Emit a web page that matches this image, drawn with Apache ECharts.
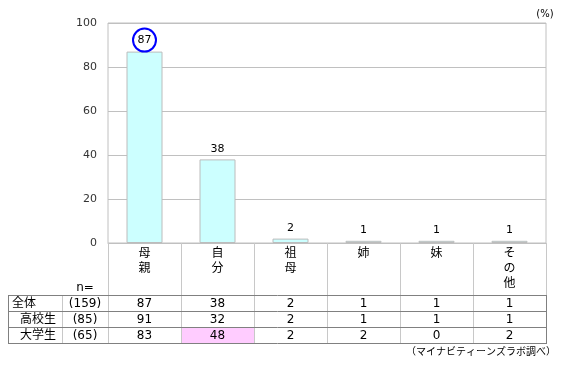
<!DOCTYPE html>
<html><head><meta charset="utf-8">
<script src="https://cdn.jsdelivr.net/npm/echarts@6/dist/echarts.min.js"></script>
<style>html,body{margin:0;padding:0;background:#fff}#c{width:563px;height:366px}</style>
</head><body><div id="c"></div>
<script>
// ---- data ----
const categories = ['母親', '自分', '祖母', '姉', '妹', 'その他'];
const overallValues = [87, 38, 2, 1, 1, 1];
const rowLabels = ['全体', '高校生', '大学生'];
const rowN = ['(159)', '(85)', '(65)'];
const rowAll = [87, 38, 2, 1, 1, 1];
const rowHigh = [91, 32, 2, 1, 1, 1];
const rowUniv = [83, 48, 2, 2, 0, 2];
const yTicks = [0, 20, 40, 60, 80, 100];
const unitLabel = '(%)';
const sourceLabel = '（マイナビティーンズラボ調べ）';
const highlightRow = 2, highlightCol = 1;
const circledIndex = 0;

// ---- layout ----
const FONT = '"DejaVu Sans","Noto Sans CJK JP",sans-serif';
const G = { left: 108, right: 546, top: 23, bottom: 243 };
const W = 563, H = 366;
const colW = (G.right - G.left) / categories.length;
const tableLeft = 8, nColLeft = 62;
const headerBottom = 295, rowH = 16;
const tableRows = [rowAll, rowHigh, rowUniv];
const rowIndent = [12, 20, 20];

const chart = echarts.init(document.getElementById('c'), null, { renderer: 'canvas' });

const g = [];
g.push({ type: 'rect', shape: { x: G.left + colW * highlightCol, y: headerBottom + rowH * highlightRow + 0.5, width: colW, height: rowH },
  style: { fill: '#ffccff' }, z: 1 });
const light = '#c8c8c8', dark = '#808080';
for (let i = 1; i <= categories.length - 1; i++) {
  const x = Math.round(G.left + colW * i) + 0.5;
  g.push({ type: 'line', shape: { x1: x, y1: G.bottom, x2: x, y2: headerBottom + rowH * 3 }, style: { stroke: light, lineWidth: 1 }, z: 2 });
}
g.push({ type: 'line', shape: { x1: G.left + 0.5, y1: G.bottom, x2: G.left + 0.5, y2: headerBottom + rowH * 3 }, style: { stroke: light, lineWidth: 1 }, z: 2 });
g.push({ type: 'line', shape: { x1: nColLeft + 0.5, y1: headerBottom, x2: nColLeft + 0.5, y2: headerBottom + rowH * 3 }, style: { stroke: light, lineWidth: 1 }, z: 2 });
g.push({ type: 'line', shape: { x1: G.right + 0.5, y1: G.bottom, x2: G.right + 0.5, y2: headerBottom }, style: { stroke: light, lineWidth: 1 }, z: 2 });
for (let r = 0; r <= 3; r++) {
  const y = headerBottom + rowH * r + 0.5;
  g.push({ type: 'line', shape: { x1: tableLeft, y1: y, x2: G.right + 1, y2: y }, style: { stroke: dark, lineWidth: 1 }, z: 3 });
}
g.push({ type: 'line', shape: { x1: tableLeft + 0.5, y1: headerBottom, x2: tableLeft + 0.5, y2: headerBottom + rowH * 3 + 1 }, style: { stroke: dark, lineWidth: 1 }, z: 3 });
g.push({ type: 'line', shape: { x1: G.right + 0.5, y1: headerBottom, x2: G.right + 0.5, y2: headerBottom + rowH * 3 + 1 }, style: { stroke: dark, lineWidth: 1 }, z: 3 });
const txt = (x, y, text, align, size) => ({ type: 'text', x: x, y: y, z: 4,
  style: { text: text, fill: '#000', font: (size || 12) + 'px ' + FONT, textAlign: align || 'center', textVerticalAlign: 'middle' } });
g.push(txt((nColLeft + G.left) / 2, 288, 'n='));
tableRows.forEach((row, r) => {
  const cy = headerBottom + rowH * r + rowH / 2 + 0.5;
  g.push(txt(rowIndent[r], cy, rowLabels[r], 'left'));
  g.push(txt((nColLeft + G.left) / 2, cy, rowN[r]));
  row.forEach((v, c) => g.push(txt(G.left + colW * (c + 0.5), cy, String(v))));
});
g.push(txt(545, 14, unitLabel, 'center', 10));
g.push(txt(556, 352, sourceLabel, 'right', 10));

const barData = overallValues.map((v, i) => i === circledIndex ? {
  value: v,
  label: { distance: 0, width: 23, height: 23, lineHeight: 23, align: 'center', fontSize: 11,
    borderColor: '#0000ff', borderWidth: 2, borderRadius: 13, padding: 0 }
} : v);

chart.setOption({
  animation: false,
  backgroundColor: '#fff',
  textStyle: { fontFamily: FONT },
  grid: { left: G.left, right: W - G.right, top: G.top, bottom: H - G.bottom, show: true, borderColor: '#c0c0c0', borderWidth: 1 },
  xAxis: {
    type: 'category', data: categories,
    axisTick: { show: false },
    axisLine: { lineStyle: { color: '#c0c0c0' } },
    axisLabel: { color: '#000', fontSize: 12, lineHeight: 15, margin: 3, verticalAlign: 'top', interval: 0,
      formatter: v => v.split('').join('\n') }
  },
  yAxis: {
    type: 'value', min: yTicks[0], max: yTicks[yTicks.length - 1], interval: yTicks[1] - yTicks[0],
    axisLine: { show: false }, axisTick: { show: false },
    axisLabel: { color: '#333', fontSize: 11, margin: 11 },
    splitLine: { lineStyle: { color: '#c0c0c0' } }
  },
  series: [{
    type: 'bar', data: barData, barWidth: 36,
    itemStyle: { color: '#ccffff', borderColor: '#bcbcbc', borderWidth: 1 },
    label: { show: true, position: 'top', distance: 5, color: '#000', fontSize: 11 }
  }],
  graphic: g
});
</script></body></html>
